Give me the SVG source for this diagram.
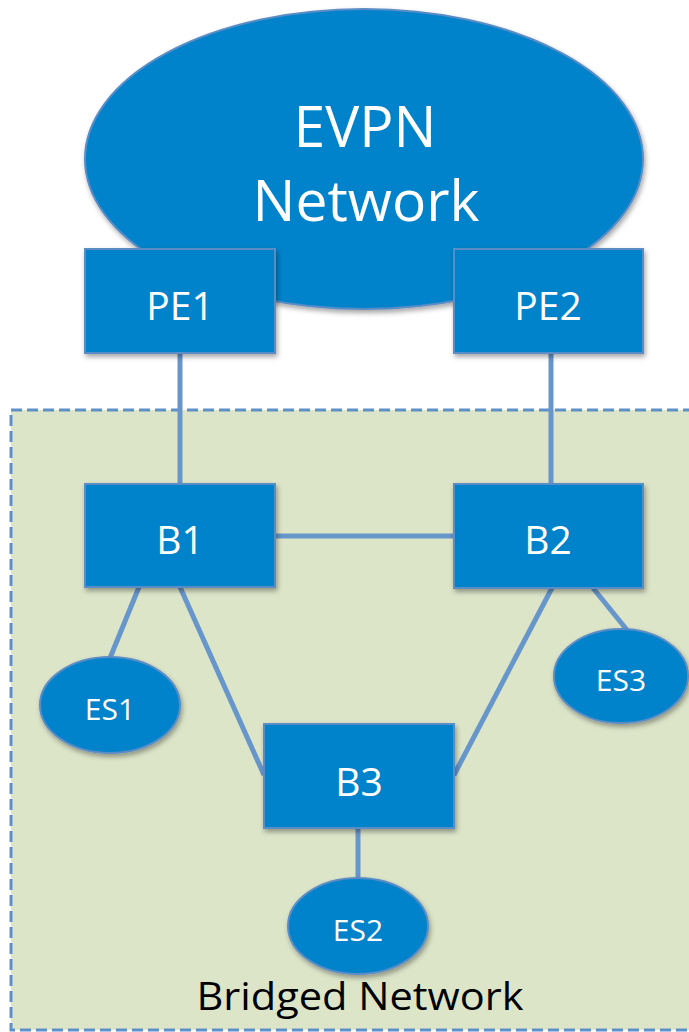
<svg xmlns="http://www.w3.org/2000/svg" width="689" height="1032" viewBox="0 0 689 1032">
  <defs>
    <filter id="sh" x="-20%" y="-20%" width="140%" height="150%">
      <feDropShadow dx="1.5" dy="3" stdDeviation="2.5" flood-color="#000" flood-opacity="0.35"/>
    </filter>
  </defs>
  <style>
    .node { fill: #0283CA; stroke: #5A8CC6; stroke-width: 2; filter: url(#sh); }
    .lbl { fill: #FFFFFF; font-family: "Open Sans", "Liberation Sans", sans-serif; text-anchor: middle; }
    .conn { stroke: #6796CB; stroke-width: 5; fill: none; }
    .region { fill: #DCE5C8; stroke: #5E90CA; stroke-width: 3; stroke-dasharray: 11 5; }
  </style>
  <rect width="689" height="1032" fill="#FFFFFF"/>
  <g id="bridged-network">
    <rect class="region" x="11" y="410" width="700" height="620"/>
    <text x="360" y="1010" font-family="'Open Sans', 'Liberation Sans', sans-serif" font-size="39" fill="#000000" text-anchor="middle" textLength="327" lengthAdjust="spacingAndGlyphs">Bridged Network</text>
  </g>
  <g id="evpn">
    <ellipse class="node" cx="364" cy="159" rx="279" ry="150"/>
    <text class="lbl" x="365" y="147" font-size="57">EVPN</text>
    <text class="lbl" x="366" y="221" font-size="57">Network</text>
  </g>
  <g id="connectors">
    <line class="conn" x1="180" y1="353" x2="180" y2="484"/>
    <line class="conn" x1="551" y1="353" x2="551" y2="484"/>
    <line class="conn" x1="275" y1="536" x2="454" y2="536"/>
    <line class="conn" x1="139" y1="587" x2="110" y2="658"/>
    <line class="conn" x1="180" y1="587" x2="264" y2="775"/>
    <line class="conn" x1="552" y1="588" x2="454" y2="775"/>
    <line class="conn" x1="593" y1="588" x2="627" y2="630"/>
    <line class="conn" x1="358" y1="828" x2="358" y2="879"/>
  </g>
  <g id="PE1">
    <rect class="node" x="85" y="249" width="190" height="104"/>
    <text class="lbl" x="180" y="320" font-size="39">PE1</text>
  </g>
  <g id="PE2">
    <rect class="node" x="454" y="249" width="189" height="104"/>
    <text class="lbl" x="548" y="320" font-size="39">PE2</text>
  </g>
  <g id="B1">
    <rect class="node" x="85" y="484" width="190" height="103"/>
    <text class="lbl" x="180" y="554" font-size="39">B1</text>
  </g>
  <g id="B2">
    <rect class="node" x="454" y="484" width="189" height="104"/>
    <text class="lbl" x="548" y="554" font-size="39">B2</text>
  </g>
  <g id="B3">
    <rect class="node" x="264" y="724" width="190" height="104"/>
    <text class="lbl" x="359" y="796" font-size="39">B3</text>
  </g>
  <g id="ES1">
    <ellipse class="node" cx="110" cy="705" rx="70" ry="48"/>
    <text class="lbl" x="110" y="720" font-size="30">ES1</text>
  </g>
  <g id="ES2">
    <ellipse class="node" cx="358" cy="926" rx="70" ry="48"/>
    <text class="lbl" x="358" y="941" font-size="30">ES2</text>
  </g>
  <g id="ES3">
    <ellipse class="node" cx="621" cy="676" rx="67" ry="47"/>
    <text class="lbl" x="621" y="691" font-size="30">ES3</text>
  </g>
</svg>
